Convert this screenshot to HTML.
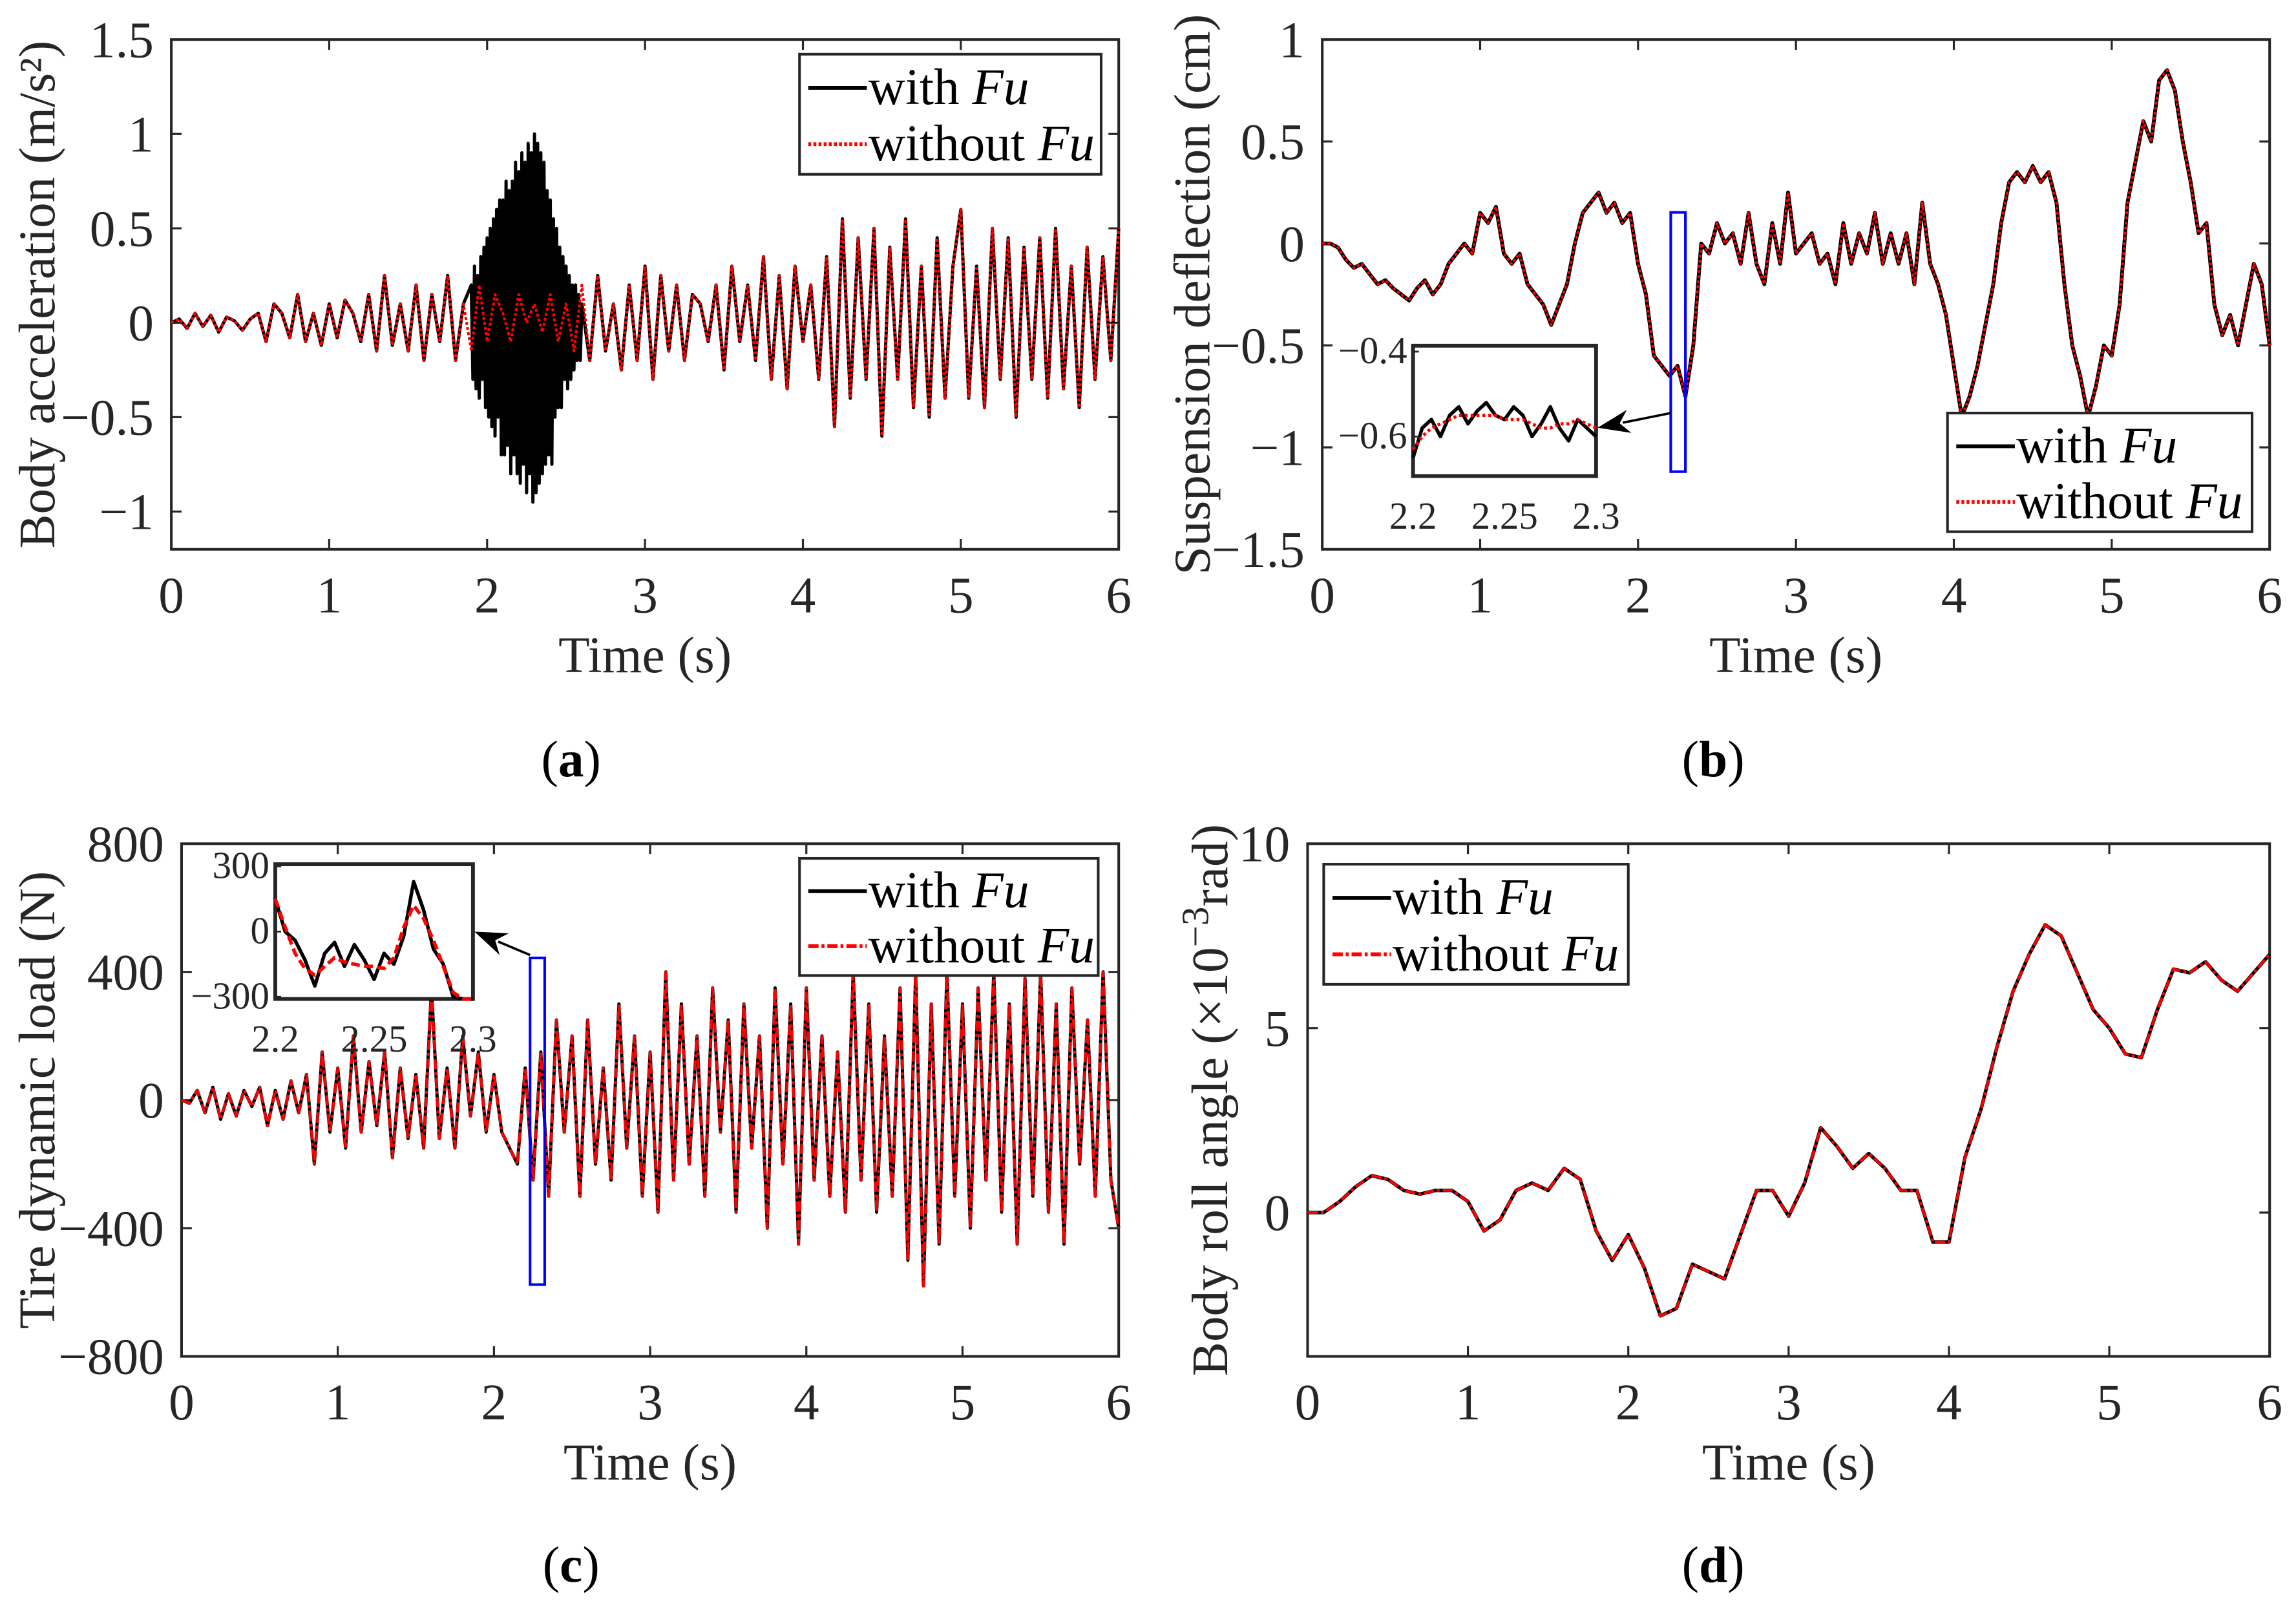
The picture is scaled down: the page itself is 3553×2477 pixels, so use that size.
<!DOCTYPE html>
<html><head><meta charset="utf-8"><style>
html,body{margin:0;padding:0;background:#fff;}
svg{display:block;font-family:"Liberation Serif",serif;}
</style></head><body>
<svg id="fig" xmlns="http://www.w3.org/2000/svg" width="3553" height="2477" viewBox="0 0 1568 1093" preserveAspectRatio="none"></svg>
<script>
// ---- data (time step 0.05 s unless noted) ----
const accRed=[0,0.02,-0.03,0.05,-0.02,0.04,-0.05,0.03,0.01,-0.04,
0.02,0.05,-0.1,0.1,0.05,-0.08,0.15,-0.1,0.05,-0.12,
0.1,-0.08,0.12,0.05,-0.1,0.15,-0.15,0.25,-0.12,0.1,
-0.15,0.2,-0.2,0.15,-0.1,0.25,-0.2,0.1,-0.15,0.2,
-0.1,0.15,0.05,-0.1,0.15,0,0.1,-0.05,0.15,-0.1,
0.1,-0.15,0.2,-0.2,0.25,-0.15,0.1,-0.25,0.2,-0.2,
0.3,-0.3,0.25,-0.15,0.2,-0.2,0.15,0.1,-0.1,0.2,
-0.25,0.3,-0.1,0.2,-0.2,0.35,-0.3,0.25,-0.35,0.3,
-0.1,0.2,-0.3,0.35,-0.55,0.55,-0.4,0.45,-0.3,0.5,
-0.6,0.4,-0.3,0.55,-0.45,0.3,-0.5,0.45,-0.4,0.3,
0.6,-0.4,0.3,-0.45,0.5,-0.3,0.45,-0.5,0.4,-0.3,
0.45,-0.4,0.5,-0.35,0.3,-0.45,0.4,-0.3,0.35,-0.2,0.5];
// black burst, t = 1.90 .. 2.60 step 0.01
const accBurst=[0.2,-0.3,0.3,-0.35,0.25,-0.4,0.35,-0.3,0.4,-0.45,
0.45,-0.5,0.5,-0.55,0.55,-0.6,0.6,-0.5,0.65,-0.7,
0.65,-0.7,0.75,-0.65,0.7,-0.8,0.75,-0.7,0.85,-0.8,
0.8,-0.85,0.9,-0.75,0.85,-0.9,0.95,-0.8,0.9,-0.95,
1.0,-0.9,0.95,-0.85,0.9,-0.8,0.85,-0.75,0.7,-0.7,
0.65,-0.75,0.55,-0.5,0.5,-0.45,0.4,-0.45,0.35,-0.3,
0.3,-0.35,0.25,-0.3,0.2,-0.25,0.2,-0.2,0.15,-0.2,0.1];
const defl=[0,0,-0.02,-0.08,-0.12,-0.1,-0.15,-0.2,-0.18,-0.22,
-0.25,-0.28,-0.22,-0.18,-0.25,-0.2,-0.1,-0.05,0,-0.05,
0.15,0.1,0.18,-0.05,-0.1,-0.05,-0.2,-0.25,-0.3,-0.4,
-0.3,-0.2,0,0.15,0.2,0.25,0.15,0.2,0.1,0.15,
-0.1,-0.25,-0.55,-0.6,-0.65,-0.6,-0.75,-0.5,0,-0.05,
0.1,0,0.05,-0.1,0.15,-0.1,-0.2,0.1,-0.1,0.25,
-0.05,0,0.05,-0.1,-0.05,-0.2,0.1,-0.1,0.05,-0.05,
0.15,-0.1,0.05,-0.1,0.05,-0.2,0.2,-0.1,-0.2,-0.35,
-0.6,-0.85,-0.75,-0.6,-0.4,-0.2,0.1,0.3,0.35,0.3,
0.38,0.3,0.35,0.2,-0.2,-0.5,-0.65,-0.85,-0.7,-0.5,
-0.55,-0.3,0.2,0.4,0.6,0.5,0.8,0.85,0.75,0.5,
0.3,0.05,0.1,-0.3,-0.45,-0.35,-0.5,-0.3,-0.1,-0.2,-0.5];
const tire=[0,-10,30,-40,40,-60,20,-50,30,-20,
40,-80,30,-60,60,-40,80,-200,150,-100,
100,-150,200,-100,120,-80,150,-180,100,-120,
80,-150,350,-120,100,-150,200,-50,150,-100,
80,-100,-150,-200,100,-250,150,-300,250,-100,
200,-300,250,-200,100,-250,300,-150,200,-300,
150,-350,400,-250,300,-200,200,-300,350,-100,
250,-350,300,-150,200,-400,350,-200,300,-450,
350,-250,200,-300,150,-350,400,-250,300,-350,
200,-300,350,-500,400,-580,300,-450,400,-300,
300,-400,350,-250,400,-350,300,-450,380,-300,
400,-350,300,-450,350,-200,250,-300,400,-250,-400];
// roll angle, step 0.1 s
const roll=[0,0,0.3,0.7,1.0,0.9,0.6,0.5,0.6,0.6,
0.3,-0.5,-0.2,0.6,0.8,0.6,1.2,0.9,-0.5,-1.3,
-0.6,-1.5,-2.8,-2.6,-1.4,-1.6,-1.8,-0.6,0.6,0.6,
-0.1,0.8,2.3,1.8,1.2,1.6,1.2,0.6,0.6,-0.8,
-0.8,1.5,2.8,4.5,6,7,7.8,7.5,6.5,5.5,
5.0,4.3,4.2,5.5,6.6,6.5,6.8,6.3,6.0,6.5,7.0];
// insets, t = 2.20 .. 2.30 step 0.005
const insBBlack=[-0.65,-0.58,-0.56,-0.6,-0.55,-0.53,-0.57,-0.54,-0.52,-0.55,-0.56,-0.53,-0.55,-0.6,-0.57,-0.53,-0.58,-0.61,-0.56,-0.58,-0.6];
const insBRed=[-0.63,-0.6,-0.58,-0.57,-0.56,-0.55,-0.55,-0.55,-0.55,-0.55,-0.56,-0.56,-0.56,-0.57,-0.58,-0.58,-0.57,-0.57,-0.56,-0.57,-0.58];
const insCBlack=[150,0,-40,-130,-250,-100,-50,-160,-60,-130,-220,-100,-150,-20,230,100,-80,-150,-300,-330,-330];
const insCRed=[150,20,-100,-170,-200,-160,-120,-140,-150,-160,-160,-170,-120,20,120,60,-40,-160,-280,-330,-330];
const xTicks=[0,1,2,3,4,5,6];
const aTicks=[-1,-0.5,0,0.5,1,1.5];
const bTicks=[-1.5,-1,-0.5,0,0.5,1];
const cTicks=[-800,-400,0,400,800];
const dTicks=[0,5,10];

const NS='http://www.w3.org/2000/svg';
const svg=document.getElementById('fig');
const FS=35;
function el(tag,attrs,parent){const e=document.createElementNS(NS,tag);for(const k in attrs)e.setAttribute(k,attrs[k]);(parent||svg).appendChild(e);return e;}
function fmt(v){return (v<0?'\u2212':'')+String(Math.abs(v));}
function sx(ax,v){return ax.x0+(v-ax.xmin)/(ax.xmax-ax.xmin)*(ax.x1-ax.x0);}
function sy(ax,v){return ax.y1-(v-ax.ymin)/(ax.ymax-ax.ymin)*(ax.y1-ax.y0);}
function series(ax,vals,t0,dt,stroke,w,dash,name){
  let pts=vals.map((v,i)=>sx(ax,t0+i*dt).toFixed(2)+','+sy(ax,Math.max(ax.ymin,Math.min(ax.ymax,v))).toFixed(2)).join(' ');
  const p=el('polyline',{points:pts,fill:'none',stroke:stroke,'stroke-width':w,'stroke-linejoin':'round'});
  if(dash)p.setAttribute('stroke-dasharray',dash);
  
  
  return p;
}
function axes(ax,yt,ylabel,pname,ylfmt){
  const g=el('g',{});
  
  
  el('rect',{x:ax.x0,y:ax.y0,width:ax.x1-ax.x0,height:ax.y1-ax.y0,fill:'none',stroke:'#262626','stroke-width':1.8},g);
  xTicks.forEach(t=>{const x=sx(ax,t);
    el('line',{x1:x,x2:x,y1:ax.y1,y2:ax.y1-7,stroke:'#262626','stroke-width':1.4},g);
    el('line',{x1:x,x2:x,y1:ax.y0,y2:ax.y0+7,stroke:'#262626','stroke-width':1.4},g);
    const tx=el('text',{x:x,y:ax.y1+43,'text-anchor':'middle','font-size':FS,fill:'#262626'},g);tx.textContent=t;
    
    });
  yt.forEach(t=>{const y=sy(ax,t);
    el('line',{x1:ax.x0,x2:ax.x0+7,y1:y,y2:y,stroke:'#262626','stroke-width':1.4},g);
    el('line',{x1:ax.x1,x2:ax.x1-7,y1:y,y2:y,stroke:'#262626','stroke-width':1.4},g);
    const tx=el('text',{x:ax.x0-12,y:y+12,'text-anchor':'end','font-size':FS,fill:'#262626'},g);tx.textContent=ylfmt?ylfmt(t):fmt(t);
    
    });
  const xl=el('text',{x:(ax.x0+ax.x1)/2,y:ax.y1+84,'text-anchor':'middle','font-size':FS,fill:'#262626'},g);xl.textContent='Time (s)';
  
  
  const cy=(ax.y0+ax.y1)/2;
  const yl=el('text',{x:0,y:0,'text-anchor':'middle','font-size':FS,fill:'#262626',transform:`translate(${ax.ylx},${cy}) rotate(-90)`},g);
  yl.innerHTML=ylabel;
  
  
}
function legend(x,y,w,h,redDash){
  const g=el('g',{});
  
  
  el('rect',{x:x,y:y,width:w,height:h,fill:'#fff',stroke:'#262626','stroke-width':1.8},g);
  el('line',{x1:x+6,x2:x+46,y1:y+h*0.28,y2:y+h*0.28,stroke:'#000','stroke-width':2.6},g);
  const l2=el('line',{x1:x+6,x2:x+46,y1:y+h*0.75,y2:y+h*0.75,stroke:'red','stroke-width':2.6},g);
  if(redDash)l2.setAttribute('stroke-dasharray',redDash);
  const t1=el('text',{x:x+47,y:y+h*0.28+11,'font-size':FS,fill:'#000'},g);t1.innerHTML='with <tspan font-style="italic">Fu</tspan>';
  
  
  const t2=el('text',{x:x+47,y:y+h*0.75+11,'font-size':FS,fill:'#000'},g);t2.innerHTML='without <tspan font-style="italic">Fu</tspan>';
  
  
}
function plabel(x,y,l){const t=el('text',{x:x,y:y,'text-anchor':'middle','font-size':FS,fill:'#000'});t.innerHTML='(<tspan font-weight="bold">'+l+'</tspan>)';
  
  }
function arrow(x1,y1,x2,y2,name){
  const a=Math.atan2(y2-y1,x2-x1),L=22,W=8;
  el('line',{x1:x1,y1:y1,x2:x2-Math.cos(a)*L*0.8,y2:y2-Math.sin(a)*L*0.8,stroke:'#000','stroke-width':1.6});
  const p=el('polygon',{points:`${x2},${y2} ${x2-L*Math.cos(a)+W*Math.sin(a)},${y2-L*Math.sin(a)-W*Math.cos(a)} ${x2-L*0.7*Math.cos(a)},${y2-L*0.7*Math.sin(a)} ${x2-L*Math.cos(a)-W*Math.sin(a)},${y2-L*Math.sin(a)+W*Math.cos(a)}`,fill:'#000'});
  
  
}
function zoomRect(x,y,w,h){const r=el('rect',{x:x,y:y,width:w,height:h,fill:'none',stroke:'#0000ff','stroke-width':1.8});
  
  }
function insetTicks(ax,yt,xt){
  yt.forEach(q=>{const y=sy(ax,q[0]);el('line',{x1:ax.x0,x2:ax.x0+4,y1:y,y2:y,stroke:'#262626','stroke-width':1.2});
    const t=el('text',{x:ax.x0-4,y:y+8,'text-anchor':'end','font-size':26,fill:'#262626'});t.textContent=q[1];
    
    });
  xt.forEach(q=>{const x=sx(ax,q[0]);const t=el('text',{x:x,y:ax.y1+36,'text-anchor':'middle','font-size':26,fill:'#262626'});t.textContent=q[1];
    
    });
}

// ---- panel a ----
const A={x0:117,x1:764,y0:27,y1:375,xmin:0,xmax:6,ymin:-1.2,ymax:1.5,ylx:37};
axes(A,aTicks,'Body acceleration (m/s²)','panel-a');
(function(){const pre=[],post=[];
 accRed.forEach((v,i)=>{const t=i*0.05;if(t<1.9-1e-9)pre.push([t,v]);else if(t>2.6+1e-9)post.push([t,v]);});
 const all=pre.concat(accBurst.map((v,i)=>[1.9+i*0.01,v])).concat(post);
 const p=el('polyline',{points:all.map(q=>sx(A,q[0]).toFixed(2)+','+sy(A,q[1]).toFixed(2)).join(' '),fill:'none',stroke:'#000','stroke-width':2.2,'stroke-linejoin':'round'});
 
 })();
series(A,accRed,0,0.05,'red',1.8,'2 1.5','series-without-fu');
legend(546,37,206,82,'2 1.5');
plabel(390,530,'a');

// ---- panel b ----
const B={x0:903,x1:1550,y0:27,y1:375,xmin:0,xmax:6,ymin:-1.5,ymax:1,ylx:826};
axes(B,bTicks,'Suspension deflection (cm)','panel-b');
series(B,defl,0,0.05,'#000',2.6,null,'series-with-fu');
series(B,defl,0,0.05,'red',1.6,'2 1.5','series-without-fu');
zoomRect(1141,145,10,177);
const IB={x0:965,x1:1090,y0:236,y1:325,xmin:2.2,xmax:2.3,ymin:-0.693,ymax:-0.386};
el('rect',{x:IB.x0,y:IB.y0,width:125,height:89,fill:'#fff',stroke:'#262626','stroke-width':2.6});
series(IB,insBBlack,2.2,0.005,'#000',2.4,null,'inset-series-with-fu');
series(IB,insBRed,2.2,0.005,'red',2.2,'2 2','inset-series-without-fu');
insetTicks(IB,[[-0.4,'\u22120.4'],[-0.6,'\u22120.6']],[[2.2,'2.2'],[2.25,'2.25'],[2.3,'2.3']]);
arrow(1141,282,1091,292,'inset-arrow');
legend(1330,282,208,81,'2 1.5');
plabel(1170,530,'b');

// ---- panel c ----
const C={x0:124,x1:764,y0:576,y1:926,xmin:0,xmax:6,ymin:-800,ymax:800,ylx:37};
axes(C,cTicks,'Tire dynamic load (N)','panel-c');
series(C,tire,0,0.05,'#000',2.2,null,'series-with-fu');
series(C,tire,0,0.05,'red',1.8,'7 2 2 2','series-without-fu');
zoomRect(362,654,10,223);
const IC={x0:188,x1:323,y0:590,y1:682,xmin:2.2,xmax:2.3,ymin:-310,ymax:310};
el('rect',{x:IC.x0,y:IC.y0,width:135,height:92,fill:'#fff',stroke:'#262626','stroke-width':2.6});
series(IC,insCBlack,2.2,0.005,'#000',2.4,null,'inset-series-with-fu');
series(IC,insCRed,2.2,0.005,'red',2.4,'6 3','inset-series-without-fu');
insetTicks(IC,[[300,'300'],[0,'0'],[-300,'\u2212300']],[[2.2,'2.2'],[2.25,'2.25'],[2.3,'2.3']]);
arrow(362,652,324,636,'inset-arrow');
legend(546,586,204,80,'7 2 2 2');
plabel(390,1080,'c');

// ---- panel d ----
const D={x0:893,x1:1550,y0:576,y1:926,xmin:0,xmax:6,ymin:-3.9,ymax:10,ylx:838};
axes(D,dTicks,'Body roll angle (×10<tspan dy="-13" font-size="26">−3</tspan><tspan dy="13">rad)</tspan>','panel-d',v=>String(v));
series(D,roll,0,0.1,'#000',2.4,null,'series-with-fu');
series(D,roll,0,0.1,'red',1.8,'7 2 2 2','series-without-fu');
legend(904,590,208,82,'7 2 2 2');
plabel(1170,1080,'d');
</script>
</body></html>
